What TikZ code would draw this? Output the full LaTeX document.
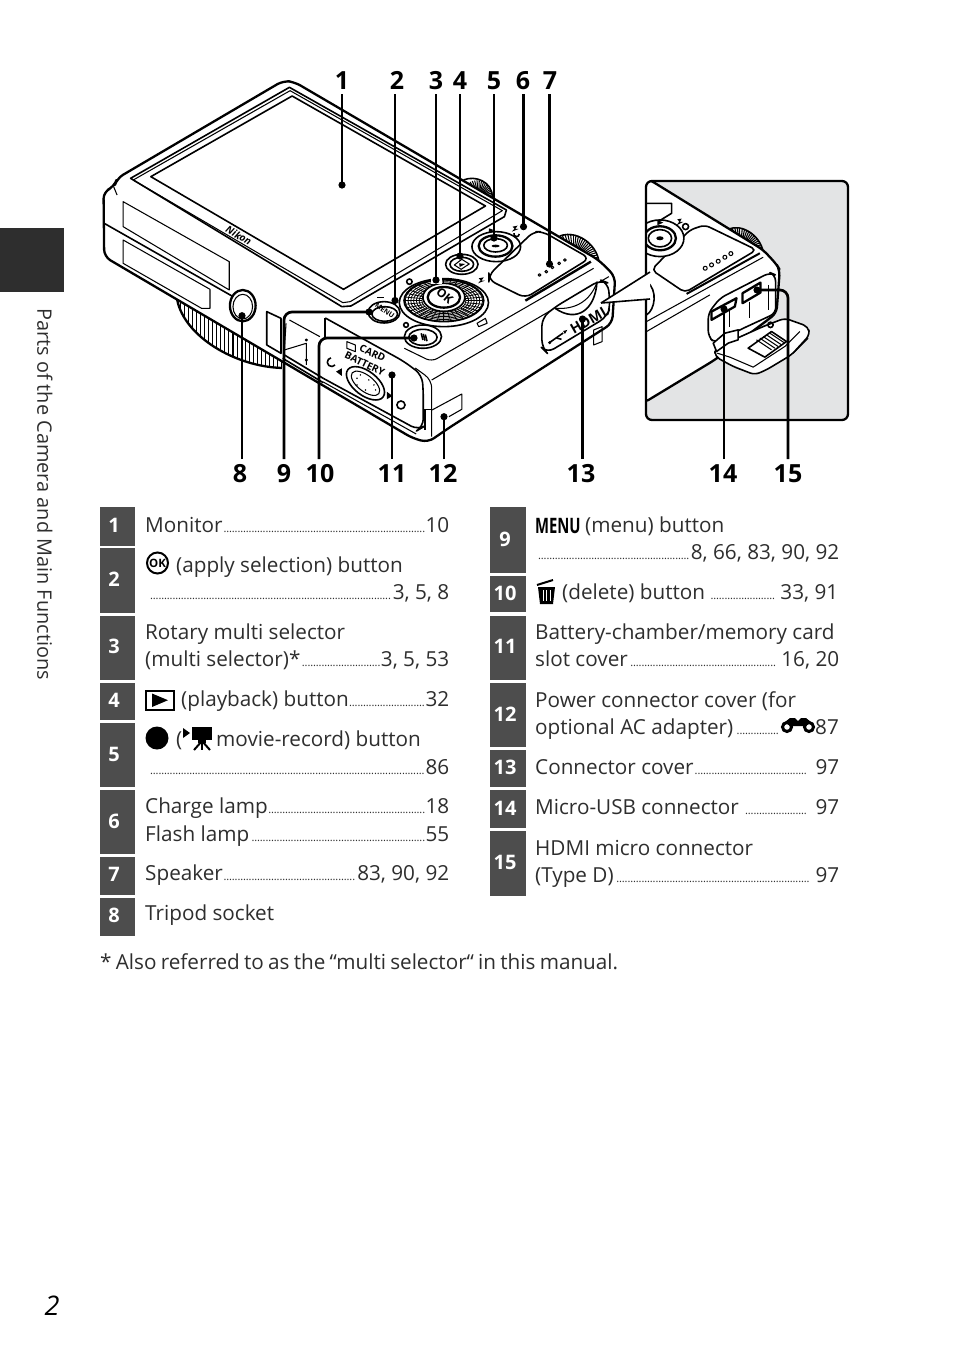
\documentclass[tikz,border=0pt]{standalone}
\usepackage{fontspec}
\setmainfont{Open Sans}
\usetikzlibrary{positioning}
\definecolor{bandgray}{HTML}{4D4D4D}
\definecolor{insetgray}{HTML}{E3E4E5}
\definecolor{tabtext}{HTML}{2E2E2E}
\newcommand{\dotrun}{{\fontsize{11}{11}\selectfont\leaders\hbox to 2.8pt{\hss.\hss}\hfill}}
\newcommand{\tabline}[5]{\node[rowtext] (#1) at ({#2},{#3-1}) {\makebox[#4pt][s]{#5}};}
\tikzset{
    callnum/.style={font=\fontsize{25}{25}\selectfont\bfseries,inner sep=0pt,outer sep=5pt,anchor=base,text height=18pt,text depth=0pt},
    leader/.style={line width=2.7pt,black},
    band/.style={fill=bandgray,draw=none},
    bandnum/.style={font=\fontsize{20}{20}\selectfont\bfseries,white,inner sep=0pt,yshift=1pt},
    rowtext/.style={font=\fontsize{20.7}{24}\selectfont,tabtext,anchor=base west,inner sep=0pt},
    outline/.style={line width=2.3pt,line join=round},
    fineline/.style={line width=1.05pt,line join=round},
    midline/.style={line width=1.6pt,line join=round},
}
\begin{document}
\begin{tikzpicture}[x=1pt,y=-1pt]
    \useasboundingbox (0,0) rectangle (954,1345);
    \fill[white] (0,0) rectangle (954,1345);
    \fill[black!82] (0,228) rectangle (64,292);
    \node[rotate=-90,font=\fontsize{19.9}{20}\selectfont,tabtext,inner sep=0pt] (sidetitle) at (45,494) {Parts of the Camera and Main Functions};
    \node[font=\fontsize{27}{27}\selectfont\itshape,inner sep=0pt] (pagenum) at (52,1306) {2};

    \begin{scope}[shift={(90,60)},x=0.338pt,y=-0.3333pt]
        \begin{scope}
            \clip (255,700) .. controls (270,830) and (430,920) .. (570,925) -- (600,800) -- cycle;
            \foreach \x in {255,267,...,570}
                \draw[fineline] (\x,700) -- (\x,930);
        \end{scope}
        \draw[outline] (258,720) .. controls (280,830) and (430,920) .. (568,924);
        \begin{scope}
            \clip (1100,400) .. controls (1110,345) and (1190,345) .. (1195,420) -- cycle;
            \foreach \a in {0,8,...,352}
                \draw[fineline] (1150,410) -- ++(\a:80);
        \end{scope}
        \draw[midline] (1105,360) .. controls (1140,345) and (1190,365) .. (1190,410);
        \begin{scope}
            \clip (1385,530) .. controls (1430,500) and (1500,550) .. (1505,610) -- cycle;
            \foreach \a in {0,6,...,354}
                \draw[fineline] (1430,600) -- ++(\a:100);
        \end{scope}
        \draw[midline] (1390,528) .. controls (1440,510) and (1495,550) .. (1505,600);
        \draw[outline,fill=white,rounded corners=7pt] (80,355) -- (572,62) -- (605,66) -- (1505,600) -- (1554,650) -- (1545,790) -- (1060,1105) -- (1000,1147) -- (955,1135) -- (42,590) -- (40,395) -- (72,380) -- cycle;
        \draw[fineline] (70,380) -- (80,405);
        \draw[midline] (42,490) -- (420,708);
        \draw[midline] (120,355) -- (590,82) -- (1232,450) -- (1226,470) -- (772,738) -- (745,740) -- cycle;
        \draw[fineline] (128,360) -- (592,92) -- (1220,452) -- (770,725) -- (748,728) -- cycle;
        \draw[midline] (180,350) -- (598,108) -- (1170,438) -- (750,688) -- cycle;
        \node[rotate=-30,font=\fontsize{10}{10}\selectfont\bfseries\itshape,inner sep=0pt] (brand) at (440,527) {Nikon};
        \draw[fineline] (98,425) -- (412,605) -- (412,690) -- (98,500) -- cycle;
        \draw[fineline] (98,540) -- (355,688) -- (355,745) -- (330,745) -- (98,610) -- cycle;
        \draw[outline,fill=white] (452,737) ellipse (38 and 47);
        \draw[fineline,fill=white] (452,740) ellipse (29 and 37);
        \draw[midline] (523,755) -- (523,855) -- (565,880) -- (565,775) -- cycle;
        \draw[fineline] (580,790) -- (575,870) -- (640,850) -- (640,915);
        \draw[fineline] (590,780) -- (680,830);
        \draw[fineline] (640,840) circle (3);
        \draw[fineline] (640,900) circle (3);
        \draw[midline] (575,885) -- (690,955);
        \draw[midline] (570,895) -- (690,968);
        \draw[line width=2.2pt] (696,774) -- (696,830);
        \draw[midline,rounded corners=8pt] (696,774) -- (930,905) -- (982,945) -- (986,990) -- (986,1101) -- (971,1110) -- (690,955);
        \draw[fineline] (690,966) -- (965,1122);
        \draw[fineline,rounded corners=8pt] (962,924) -- (1011,960) -- (1011,1130);
        \draw[fineline,rounded corners=6pt] (930,865) -- (1011,905) -- (1490,625);
        \draw[fineline] (1011,960) -- (1535,650);
        \draw[midline] (992,1050) -- (992,1110);
        \draw[fineline] (1012,1050) -- (1100,1002) -- (1100,1048) -- (1062,1070);
        \draw[fineline] (985,1050) -- (1012,1050);
        \draw[midline,rotate around={-38:(815,970)}] (815,970) ellipse (66 and 36);
        \draw[fineline,rotate around={-38:(815,970)}] (815,970) ellipse (50 and 24);
        \foreach \a/\b in {800/945,825/960,790/975,815/990,840/975,790/955,845/990}
            \fill (\a,\b) circle (2.5);
        \fill (745,925) -- (745,948) -- (728,935) -- cycle;
        \fill (878,995) -- (878,1018) -- (895,1008) -- cycle;
        \draw[midline] (920,1035) circle (12);
        \draw[midline] (725,915) arc (40:260:13);
        \draw[fineline] (760,845) -- (785,855) -- (785,875) -- (760,865) -- cycle;
        \node[rotate=-26,font=\fontsize{10}{10}\selectfont\bfseries,inner sep=0pt] (cardtext) at (836,879) {CARD};
        \node[rotate=-26,font=\fontsize{10}{10}\selectfont\bfseries,inner sep=0pt] (batterytext) at (813,912) {BATTERY};
        \draw[midline,fill=white] (1047,728) ellipse (132 and 72);
        \draw[midline,fill=white] (1047,722) ellipse (118 and 63);
        \foreach \r in {0.55,0.62,...,0.98}
            \draw[line width=0.8pt] (1047,722) ellipse ({118*\r} and {63*\r});
        \foreach \a in {0,10,...,350}
            \draw[line width=0.8pt] ({1047+65*cos(\a)},{722+35*sin(\a)}) -- ({1047+118*cos(\a)},{722+63*sin(\a)});
        \draw[midline,fill=white] (1047,712) ellipse (62 and 42);
        \draw[outline] (1047,712) ellipse (48 and 31);
        \node[rotate=-40,font=\fontsize{12}{12}\selectfont\bfseries,inner sep=0pt] (oktext) at (1050,708) {OK};
        \fill[white] (1010,650) rectangle (1040,672);
        \draw[fineline] (1145,790) -- (1170,775) -- (1175,790) -- (1150,800) -- cycle;
        \draw[midline] (945,665) circle (8);
        \draw[midline,fill=white] (1100,613) ellipse (48 and 30);
        \draw[midline] (1100,613) ellipse (35 and 21);
        \draw[fineline] (1078,615) -- (1100,598) -- (1122,612) -- (1098,628) -- cycle;
        \fill (1092,610) -- (1110,612) -- (1094,621) -- cycle;
        \draw[midline,fill=white] (1202,560) ellipse (72 and 45);
        \draw[outline] (1200,558) ellipse (50 and 32);
        \draw[midline] (1200,556) ellipse (35 and 20);
        \fill (1200,558) ellipse (12 and 4);
        \fill (1180,505) -- (1195,510) -- (1180,518) -- cycle;
        \draw[midline] (1270,522) arc (0:200:8);
        \fill (1250,500) -- (1265,497) -- (1258,507) -- (1268,507) -- (1248,515) -- (1256,506) -- cycle;
        \fill (1150,655) -- (1165,652) -- (1158,662) -- (1168,662) -- (1148,670) -- (1156,661) -- cycle;
        \draw[midline,rounded corners=7pt] (1180,645) -- (1312,515) -- (1340,515) -- (1478,595) -- (1288,714) -- (1180,660) -- cycle;
        \draw[line width=2.4pt] (1288,722) -- (1482,605);
        \foreach \a/\b in {1330/645,1350/635,1368/622,1388/610,1405/600}
            \draw[fineline] (\a,\b) circle (4);
        \draw[midline,fill=white] (870,757) ellipse (47 and 32);
        \draw[midline] (872,762) ellipse (38 and 22);
        \node[rotate=-35,font=\fontsize{7}{7}\selectfont\bfseries,inner sep=0pt] (menutext) at (872,752) {MENU};
        \draw[midline] (850,712) -- (870,712);
        \draw[midline,fill=white] (985,830) ellipse (55 and 35);
        \draw[midline] (985,832) ellipse (42 and 24);
        \foreach \k in {0,6,12}
            \draw[midline] ({980+\k},{820+\k*0.3}) -- ({985+\k},{840+\k*0.3});
        \draw[midline] (935,795) circle (7);
        \draw[midline,fill=white,rounded corners=8pt] (1337,774) -- (1376,741) -- (1510,660) -- (1533,669) -- (1539,741) -- (1529,771) -- (1352,879) -- (1337,864) -- cycle;
        \draw[midline] (1376,745) .. controls (1440,790) and (1495,750) .. (1500,665);
        \draw[fineline] (1376,745) .. controls (1440,750) and (1480,720) .. (1500,668);
        \draw[midline] (1362,846) -- (1400,819);
        \draw[midline] (1380,834) -- (1395,838);
        \fill (1360,848) circle (5);
        \fill (1400,813) -- (1412,810) -- (1405,822) -- cycle;
        \node[rotate=30,font=\fontsize{14}{14}\selectfont\bfseries,inner sep=0pt] (hdmitext) at (1474,782) {HDMI};
        \draw[fineline] (1490,810) -- (1490,855) -- (1515,845) -- (1515,800) -- cycle;
    \end{scope}

    \begin{scope}
        \clip[rounded corners=6pt] (646,181) rectangle (848,420);
        \fill[insetgray] (646,181) rectangle (848,420);
        \begin{scope}[shift={(600,170)},x=0.333pt,y=-0.333pt]
            \begin{scope}
                \clip (385,180) .. controls (420,160) and (480,190) .. (490,245) -- cycle;
                \foreach \a in {0,6,...,354}
                    \draw[fineline] (420,245) -- ++(\a:90);
            \end{scope}
            \draw[midline] (385,178) .. controls (425,160) and (480,195) .. (490,245);
            \draw[outline,fill=white,rounded corners=6pt] (150,30) -- (490,240) -- (530,283) -- (540,300) -- (530,430) -- (345,570) -- (130,700) -- (120,20) -- cycle;
            \draw[midline,fill=white,rounded corners=5pt] (155,300) -- (270,180) -- (315,165) -- (470,240) -- (255,368) -- cycle;
            \draw[line width=2pt] (260,372) -- (480,250);
            \draw[midline] (140,100) -- (215,100) -- (215,130) -- (150,170);
            \draw[midline,fill=white] (180,205) ellipse (72 and 55);
            \draw[outline] (180,205) ellipse (48 and 36);
            \draw[midline] (180,205) ellipse (35 and 26);
            \fill (180,205) ellipse (11 and 6);
            \fill (172,150) -- (190,158) -- (172,166) -- cycle;
            \fill (232,148) -- (245,146) -- (240,156) -- (250,156) -- (230,166) -- (238,155) -- cycle;
            \draw[midline] (257,170) circle (9);
            \foreach \a/\b in {316/295,335/285,355/274,375/262,393/251}
                \draw[fineline] (\a,\b) circle (6);
            \draw[fineline] (140,455) -- (490,262);
            \draw[fineline] (140,485) -- (330,375);
            \draw[midline] (140,335) .. controls (175,360) and (165,420) .. (140,435);
            \draw[midline,rounded corners=6pt,fill=white] (325,430) -- (360,385) -- (510,308) -- (527,315) -- (528,430) -- (420,480) -- (345,520) -- (325,500) -- cycle;
            \draw[outline] (335,425) -- (410,385) -- (405,410) -- (335,450) -- cycle;
            \draw[outline] (428,370) -- (482,338) -- (482,368) -- (428,400) -- cycle;
            \draw[fineline] (450,395) -- (450,445);
            \draw[fineline] (505,345) -- (505,420);
            \draw[fineline] (390,420) -- (390,470);
            \draw[midline,fill=white,rounded corners=5pt] (345,535) -- (490,470) -- (555,445) -- (625,470) -- (630,495) -- (575,555) -- (500,600) -- (465,615) -- (400,590) -- (345,560) -- cycle;
            \draw[fineline] (352,550) -- (390,562) -- (460,592) -- (555,530) -- (600,485);
            \draw[midline] (445,535) -- (515,485) -- (560,515) -- (495,562) -- cycle;
            \foreach \k in {0,10,...,40}
                \draw[fineline] ({470+\k},{510-\k*0.5}) -- ({515+\k},{540-\k*0.5});
            \draw[midline,fill=white] (340,520) -- (375,490) -- (415,480) -- (415,510) -- (385,520) -- (350,545) -- cycle;
            \draw[midline] (512,465) circle (8);
            \draw[fineline] (580,550) -- (625,505);
        \end{scope}
    \end{scope}
    \draw[outline,rounded corners=6pt] (646,181) rectangle (848,420);

    \coordinate (wedgetip) at (601,303);
    \coordinate (wedgeup) at (650,272);
    \coordinate (wedgelow) at (650,299);
    \fill[white] (wedgetip) -- (wedgeup) -- (wedgelow) -- cycle;
    \draw[midline] (wedgetip) -- (wedgeup);
    \draw[midline] (wedgetip) -- (wedgelow);

    \foreach \n/\nx/\tx/\ty in {1/342/342/185,2/397/395/300.5,3/436/436/280,4/460/460/256,5/494/494/238,6/523/523.5/226.7,7/550/549.5/264}{
        \node[callnum] (top\n) at (\nx,89) {\n};
        \coordinate (tip\n) at (\tx,\ty);
        \fill (tip\n) circle (3.6);
    }
    \foreach \n/\nx/\tx/\ty in {8/240/242/315.7,9/284/284/312,10/320/319/338,11/392/392/375,12/443/444/416.7,13/581/582.5/319,14/723/724/309,15/788/788/290}{
        \node[callnum] (low\n) at (\nx,482) {\n};
        \coordinate (tip\n) at (\tx,\ty);
    }
    \foreach \n in {1,3,4,5,6,7}
        \draw[leader] (top\n.south -| tip\n) -- (tip\n);
    \foreach \n in {8,11,12,13,14}{
        \draw[leader] (low\n.north -| tip\n) -- (tip\n);
        \fill (tip\n) circle (3.6);
    }
    \draw[leader,rounded corners=8pt] (top2.south -| 395,0) |- (tip2);
    \coordinate (end9) at (369,312);
    \coordinate (end10) at (414,338);
    \coordinate (end15) at (757,290);
    \draw[leader,rounded corners=8pt] (low9.north) |- (end9);
    \draw[leader,rounded corners=8pt] (low10.north -| tip10) |- (end10);
    \draw[leader,rounded corners=8pt] (low15.north) |- (end15);
    \foreach \e in {end9,end10,end15}
        \fill (\e) circle (3.6);

    \foreach \n/\ya/\yb in {1/507/545.5,2/548/613,3/615.5/679.5,4/682.5/720,5/723/787,6/790/854,7/856.5/895,8/897.5/936}{
        \fill[band] (100,\ya) rectangle (135,\yb);
        \node[bandnum] (num\n) at (114,{(\ya+\yb)/2}) {\n};
    }
    \foreach \n/\ya/\yb in {9/507/573,10/576/612,11/615.5/680,12/682.5/747,13/750/787,14/790/828,15/830.5/896}{
        \fill[band] (490,\ya) rectangle (526,\yb);
        \node[bandnum] (num\n) at (505,{(\ya+\yb)/2}) {\n};
    }

    \tabline{row1}{145}{533}{304}{Monitor\dotrun 10}
    \tabline{row2a}{176}{573}{229}{(apply selection) button\hfill}
    \tabline{row2b}{150}{600}{299}{\dotrun 3, 5, 8}
    \tabline{row3a}{145}{640}{304}{Rotary multi selector\hfill}
    \tabline{row3b}{145}{667}{304}{(multi selector)*\dotrun 3, 5, 53}
    \tabline{row4}{181}{707}{268}{(playback) button\dotrun 32}
    \tabline{row5a}{176}{747}{20}{(\hfill}
    \tabline{row5b}{216}{747}{208}{movie-record) button\hfill}
    \tabline{row5c}{150}{775}{299}{\dotrun 86}
    \tabline{row6a}{145}{814}{304}{Charge lamp\dotrun 18}
    \tabline{row6b}{145}{842}{304}{Flash lamp\dotrun 55}
    \tabline{row7}{145}{881}{304}{Speaker\dotrun 83, 90, 92}
    \tabline{row8}{145}{921}{304}{Tripod socket\hfill}
    \tabline{row9a}{585}{533}{141}{(menu) button\hfill}
    \tabline{row9b}{538}{560}{301}{\dotrun 8, 66, 83, 90, 92}
    \tabline{row10}{562}{600}{276}{(delete) button\hspace{3pt}\dotrun\ 33, 91}
    \tabline{row11a}{535}{640}{304}{Battery-chamber/memory card\hfill}
    \tabline{row11b}{535}{667}{304}{slot cover\dotrun\ 16, 20}
    \tabline{row12a}{535}{708}{304}{Power connector cover (for\hfill}
    \tabline{row12b}{535}{735}{245}{optional AC adapter)\hspace{3pt}\dotrun}
    \tabline{row12c}{815}{735}{24}{87}
    \tabline{row13}{535}{775}{304}{Connector cover\dotrun\hspace{7pt}97}
    \tabline{row14}{535}{815}{304}{Micro-USB connector\hspace{4pt}\dotrun\hspace{7pt}97}
    \tabline{row15a}{535}{856}{304}{HDMI micro connector\hfill}
    \tabline{row15b}{535}{883}{304}{(Type D)\dotrun\ 97}
    \tabline{footnote}{100}{970}{518}{* Also referred to as the “multi selector“ in this manual.\hfill}

    \node[circle,draw=black,line width=2pt,font=\fontsize{11.5}{12}\selectfont\bfseries,inner sep=0pt,minimum size=21pt] (okicon) at (157.5,563) {OK};
    \draw[line width=2pt] (146,690.5) rectangle (173.5,710);
    \fill (152,693.5) -- (168,700.2) -- (152,707) -- cycle;
    \fill (157,738) circle (11.5);
    \fill (183,728) -- (190,733) -- (183,738) -- cycle;
    \fill (192,727) rectangle (212,740);
    \fill (198,740) rectangle (206,743);
    \draw[line width=2pt] (202,741) -- (194,750);
    \draw[line width=2pt] (202,741) -- (202,750);
    \draw[line width=2pt] (202,741) -- (210,750);
    \node[font=\fontsize{19}{20}\selectfont\bfseries,xscale=0.78,yscale=1.12,anchor=base west,inner sep=0pt] (menuicon) at (535,533) {MENU};
    \draw[line width=2pt] (537,585) -- (553,580);
    \fill (538,587) -- (555,587) -- (553,604) -- (540,604) -- cycle;
    \foreach \x in {543,546.5,550}
        \draw[white,line width=1pt] (\x,590) -- (\x,601);
    \draw[line width=3pt] (787,727) circle (4.5);
    \draw[line width=3pt] (809,727) circle (4.5);
    \fill (785,722) -- (790,718) -- (795,718) -- (798,721) -- (801,718) -- (806,718) -- (811,722) -- (806,726) -- (790,726) -- cycle;
\end{tikzpicture}
\end{document}
